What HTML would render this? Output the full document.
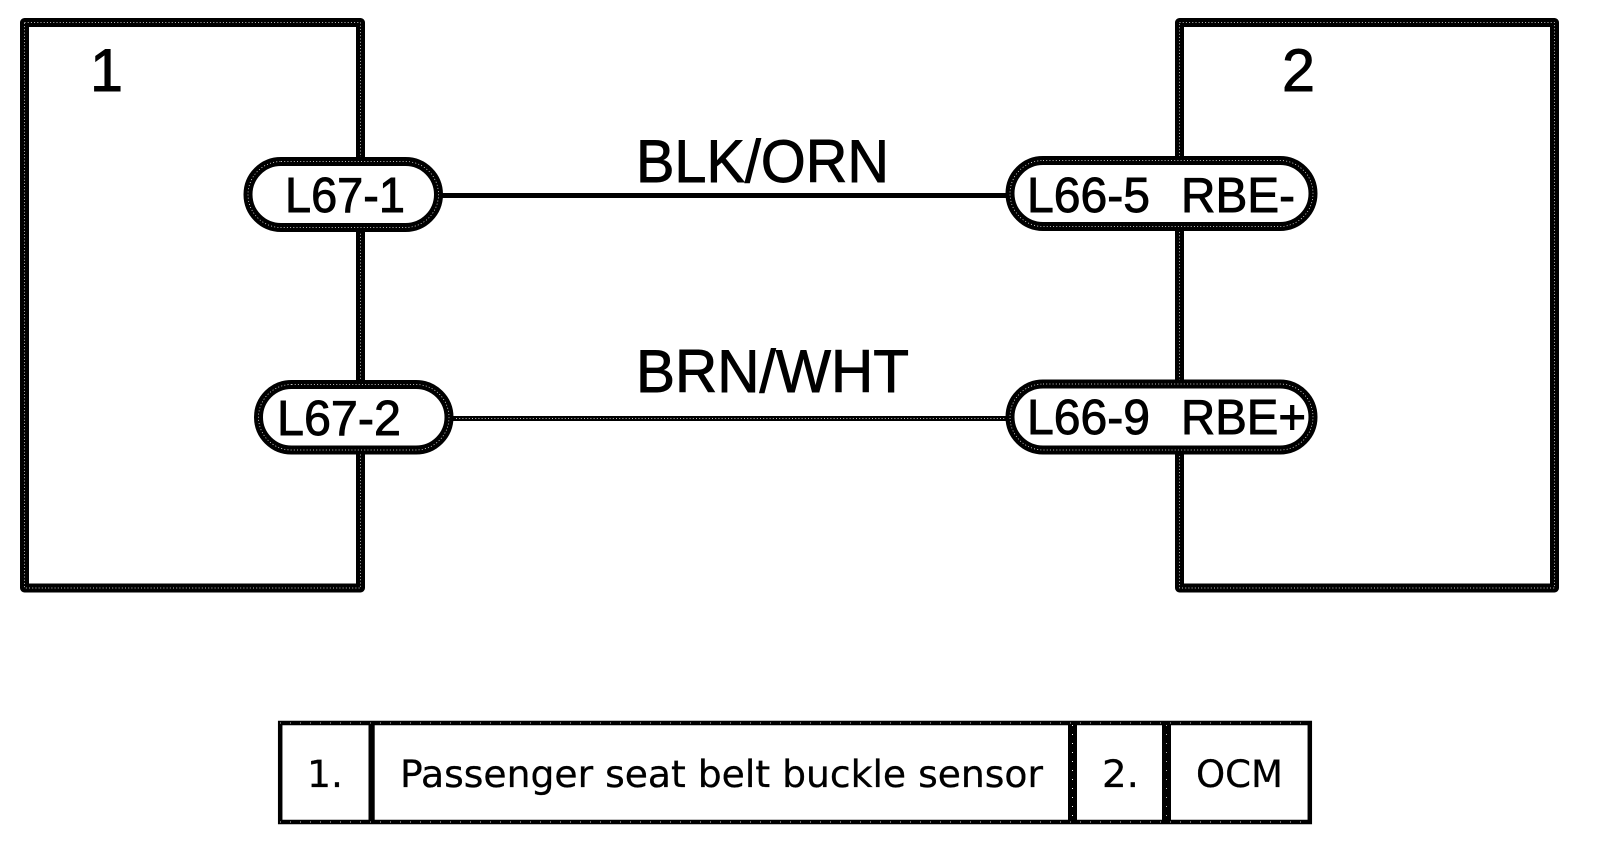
<!DOCTYPE html>
<html>
<head>
<meta charset="utf-8">
<style>
html,body{margin:0;padding:0;background:#fff;}
svg{display:block;}
text{fill:#000;stroke:#000;}
.a{font-family:"Liberation Sans",Arial,sans-serif;stroke-width:.9;}
.d{font-family:"DejaVu Sans",Verdana,sans-serif;stroke-width:.3;}
.s{fill:none;stroke:#000;stroke-width:9;}
.dot{fill:none;stroke:#fff;stroke-width:.7;stroke-dasharray:1 2.2;}
</style>
</head>
<body>
<svg width="1600" height="852" viewBox="0 0 1600 852" xmlns="http://www.w3.org/2000/svg">
<rect width="1600" height="852" fill="#fff"/>

<!-- component boxes -->
<rect class="s" x="24.5" y="22.5" width="336" height="565.5" stroke-linejoin="round"/>
<rect class="dot" x="24.5" y="22.5" width="336" height="565.5"/>
<rect class="s" x="1179.5" y="22.5" width="375" height="565.5" stroke-linejoin="round"/>
<rect class="dot" x="1179.5" y="22.5" width="375" height="565.5"/>

<!-- wires -->
<line x1="440" y1="195.5" x2="1010" y2="195.5" stroke="#000" stroke-width="5"/>
<line x1="450" y1="418.5" x2="1010" y2="418.5" stroke="#000" stroke-width="5"/>
<line class="dot" x1="456" y1="418.5" x2="1005" y2="418.5"/>

<!-- connector pills -->
<rect class="s" style="fill:#fff" x="248" y="161.5" width="190.5" height="66" rx="33" ry="33"/>
<rect class="dot" x="248" y="161.5" width="190.5" height="66" rx="33" ry="33"/>
<rect class="s" style="fill:#fff" x="258.5" y="384.5" width="190.5" height="65.5" rx="33" ry="33"/>
<rect class="dot" x="258.5" y="384.5" width="190.5" height="65.5" rx="33" ry="33"/>
<rect class="s" style="fill:#fff" x="1010" y="160.5" width="303" height="66" rx="33" ry="33"/>
<rect class="dot" x="1010" y="160.5" width="303" height="66" rx="33" ry="33"/>
<rect class="s" style="fill:#fff" x="1010" y="384" width="303" height="66" rx="33" ry="33"/>
<rect class="dot" x="1010" y="384" width="303" height="66" rx="33" ry="33"/>

<!-- large numbers -->
<text class="a" x="90" y="91" font-size="60" textLength="33" lengthAdjust="spacingAndGlyphs">1</text>
<text class="a" x="1282" y="91" font-size="60" textLength="33" lengthAdjust="spacingAndGlyphs">2</text>

<!-- wire labels -->
<text class="a" x="636" y="182" font-size="60" textLength="253" lengthAdjust="spacingAndGlyphs">BLK/ORN</text>
<text class="a" x="636" y="392" font-size="60" textLength="273" lengthAdjust="spacingAndGlyphs">BRN/WHT</text>

<!-- pill labels -->
<text class="a" x="285" y="212" font-size="49" textLength="120" lengthAdjust="spacingAndGlyphs">L67-1</text>
<text class="a" x="277" y="435" font-size="49" textLength="124" lengthAdjust="spacingAndGlyphs">L67-2</text>
<text class="a" x="1027" y="212" font-size="49" textLength="123" lengthAdjust="spacingAndGlyphs">L66-5</text>
<text class="a" x="1181" y="212" font-size="49" textLength="114" lengthAdjust="spacingAndGlyphs">RBE-</text>
<text class="a" x="1027" y="434" font-size="49" textLength="123" lengthAdjust="spacingAndGlyphs">L66-9</text>
<text class="a" x="1181" y="434" font-size="49" textLength="125" lengthAdjust="spacingAndGlyphs">RBE+</text>

<!-- legend table -->
<rect x="280.2" y="723" width="1029.6" height="99" fill="none" stroke="#000" stroke-width="4.5"/>
<rect x="368.5" y="721" width="6.2" height="103" fill="#000"/>
<rect x="1068" y="721" width="9" height="103" fill="#000"/>
<rect x="1162" y="721" width="9" height="103" fill="#000"/>
<line x1="1072.5" y1="725" x2="1072.5" y2="820" stroke="#fff" stroke-width="1" stroke-dasharray="1 8"/>
<line x1="1166.5" y1="725" x2="1166.5" y2="820" stroke="#fff" stroke-width=".7" stroke-dasharray="1 8"/>
<line x1="280" y1="723" x2="1310" y2="723" stroke="#fff" stroke-width=".7" stroke-dasharray="1 9"/>
<line x1="280" y1="822" x2="1310" y2="822" stroke="#fff" stroke-width=".7" stroke-dasharray="1 9"/>

<text class="d" x="307" y="787" font-size="37" textLength="36" lengthAdjust="spacingAndGlyphs">1.</text>
<text class="d" x="400" y="787" font-size="37" textLength="643" lengthAdjust="spacingAndGlyphs">Passenger seat belt buckle sensor</text>
<text class="d" x="1102" y="787" font-size="37" textLength="37" lengthAdjust="spacingAndGlyphs">2.</text>
<text class="d" x="1196" y="787" font-size="37" textLength="87" lengthAdjust="spacingAndGlyphs">OCM</text>
</svg>
</body>
</html>
